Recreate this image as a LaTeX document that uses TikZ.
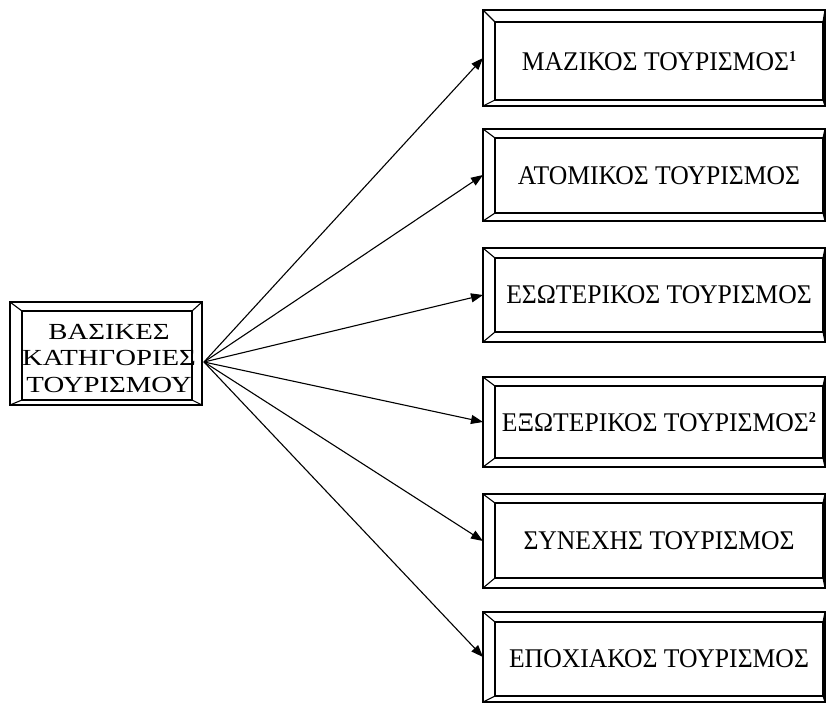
\documentclass[tikz,border=0pt]{standalone}
\usepackage{fontspec}
\setmainfont{Liberation Serif}
\newfontfamily\rfont[FakeStretch=0.95]{Liberation Serif}
\newfontfamily\lfont[FakeStretch=1.25]{Liberation Serif}
\usetikzlibrary{arrows.meta}
\newcommand\supnum[1]{\raisebox{9pt}{\fontsize{15}{15}\selectfont\bfseries #1}}
\tikzset{
  outerbox/.style={draw, line width=1.4pt, inner sep=0pt, outer sep=0pt, anchor=north west},
  innerbox/.style={draw, line width=1.2pt, inner sep=0pt, outer sep=0pt, anchor=north west,
    font=\rfont\fontsize{27}{30}\selectfont, align=center},
  boxtext/.style={inner sep=0pt, align=center},
  bevel/.style={line width=1.1pt},
  conn/.style={line width=1.1pt, -{Triangle[length=12pt,width=9pt]}}
}
\begin{document}
\begin{tikzpicture}[x=1pt,y=-1pt]
\useasboundingbox (0,0) rectangle (826,704);
% left box
\node[outerbox, minimum width=192pt, minimum height=103pt] (lo) at (10,302) {};
\node[innerbox, minimum width=170pt, minimum height=89pt] (li) at (22,311) {};
\node[boxtext, font=\lfont\fontsize{23}{26.5}\selectfont] (lt) at ([xshift=2pt,yshift=-3pt]li.center)
  {ΒΑΣΙΚΕΣ\\ΚΑΤΗΓΟΡΙΕΣ\\ΤΟΥΡΙΣΜΟΥ};
\foreach \c in {north west,north east,south west,south east}
  \draw[bevel] (lo.\c) -- (li.\c);
\coordinate (src) at (204,362);
% right boxes: outer top, inner top, inner bottom, outer bottom
\foreach \n/\ot/\it/\ib/\ob/\txt in {
  1/10/22/100/106/{ΜΑΖΙΚΟΣ ΤΟΥΡΙΣΜΟΣ\supnum{1}},
  2/129/138/213/221/{ΑΤΟΜΙΚΟΣ ΤΟΥΡΙΣΜΟΣ},
  3/248/258/332/342/{ΕΣΩΤΕΡΙΚΟΣ ΤΟΥΡΙΣΜΟΣ},
  4/377/386/458/467/{ΕΞΩΤΕΡΙΚΟΣ ΤΟΥΡΙΣΜΟΣ\supnum{2}},
  5/494/503/578/588/{ΣΥΝΕΧΗΣ ΤΟΥΡΙΣΜΟΣ},
  6/612/622/696/702/{ΕΠΟΧΙΑΚΟΣ ΤΟΥΡΙΣΜΟΣ}} {
  \pgfmathsetmacro\oh{\ob-\ot}
  \pgfmathsetmacro\ih{\ib-\it}
  \node[outerbox, minimum width=342pt, minimum height=\oh pt] (o\n) at (483,\ot) {};
  \node[innerbox, minimum width=328pt, minimum height=\ih pt] (i\n) at (495,\it) {\txt};
  \foreach \c in {north west,north east,south west,south east}
    \draw[bevel] (o\n.\c) -- (i\n.\c);
  \draw[conn] (src) -- (o\n.west);
}
\end{tikzpicture}
\end{document}
